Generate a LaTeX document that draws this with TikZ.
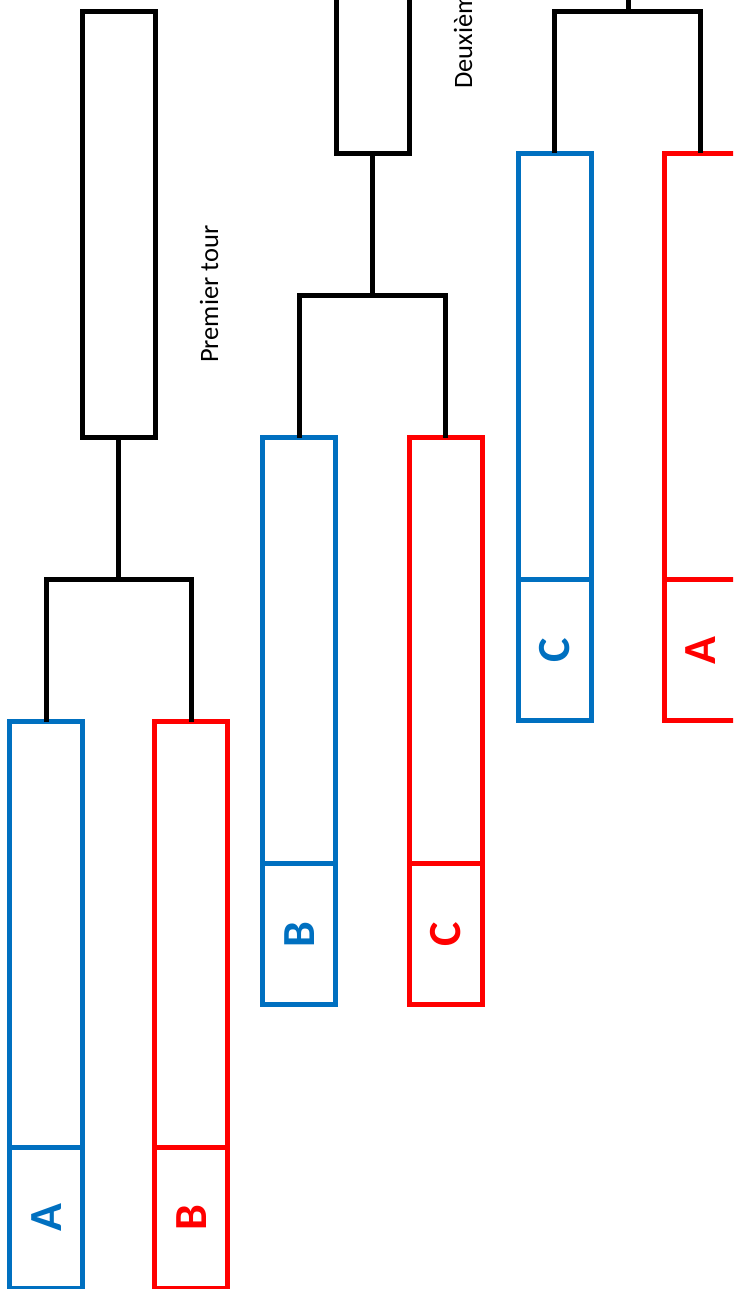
\documentclass[tikz,border=0pt]{standalone}
\usepackage{fontspec}
\setmainfont{Carlito}
\definecolor{cblue}{HTML}{0070C0}
\definecolor{cred}{HTML}{FF0000}
\begin{document}
\begin{tikzpicture}[x=1pt,y=-1pt,
  box/.style={draw, line width=5pt, minimum width=73pt, outer sep=0pt, inner sep=0pt},
  bluebox/.style={box, draw=cblue, minimum height=567pt},
  redbox/.style={box, draw=cred, minimum height=567pt},
  blackbox/.style={box, draw=black, minimum height=426pt},
  link/.style={draw=black, line width=5pt},
  letter/.style={font=\fontsize{46}{46}\selectfont\bfseries, rotate=90, inner sep=0pt},
  roundlabel/.style={font=\fontsize{26.5}{30}\selectfont, rotate=90, anchor=base west, inner sep=0pt}
]
\useasboundingbox (0,0) rectangle (733,1289);
\clip (0,0) rectangle (733,1289);
\fill[white] (0,0) rectangle (733,1289);

% ---------- Group 1 ----------
\node[blackbox] (k1) at (118.5,224.5) {};
\node[bluebox, anchor=north] (b1) at (46.25,721.5) {};
\node[redbox, anchor=north] (r1) at (191.25,721.5) {};
\draw[cblue, line width=5pt] ([yshift=-426pt]b1.north west) -- ([yshift=-426pt]b1.north east);
\draw[cred, line width=5pt] ([yshift=-426pt]r1.north west) -- ([yshift=-426pt]r1.north east);
\node[letter, text=cblue] (la1) at (46.25,1217.5) {A};
\node[letter, text=cred] (lb1) at (191.25,1217.5) {B};
\coordinate (j1) at (118.5,579.5);
\draw[link] (b1.north) |- (j1) -| (r1.north);
\draw[link] (j1) -- (k1.south);
\node[roundlabel] (t1) at (218,363) {Premier tour};

% ---------- Group 2 ----------
\node[blackbox, anchor=south] (k2) at (372.5,153.5) {};
\node[bluebox, anchor=north] (b2) at (299.25,437.5) {};
\node[redbox, anchor=north] (r2) at (445.75,437.5) {};
\draw[cblue, line width=5pt] ([yshift=-426pt]b2.north west) -- ([yshift=-426pt]b2.north east);
\draw[cred, line width=5pt] ([yshift=-426pt]r2.north west) -- ([yshift=-426pt]r2.north east);
\node[letter, text=cblue] (lb2) at (299.25,934.5) {B};
\node[letter, text=cred] (lc2) at (445.75,934.5) {C};
\coordinate (j2) at (372.5,295.5);
\draw[link] (b2.north) |- (j2) -| (r2.north);
\draw[link] (j2) -- (k2.south);
\node[roundlabel] (t2) at (472,89) {Deuxièm};

% ---------- Group 3 ----------
\node[bluebox, anchor=north] (b3) at (554.5,153.5) {};
\node[redbox, anchor=north] (r3) at (700.75,153.5) {};
\draw[cblue, line width=5pt] ([yshift=-426pt]b3.north west) -- ([yshift=-426pt]b3.north east);
\draw[cred, line width=5pt] ([yshift=-426pt]r3.north west) -- ([yshift=-426pt]r3.north east);
\node[letter, text=cblue] (lc3) at (554.5,650.5) {C};
\node[letter, text=cred] (la3) at (700.75,650.5) {A};
\coordinate (j3) at (628,11.5);
\coordinate (top3) at (628,-10);
\draw[link] (b3.north) |- (j3) -| (r3.north);
\draw[link] (j3) -- (top3);
\end{tikzpicture}
\end{document}
